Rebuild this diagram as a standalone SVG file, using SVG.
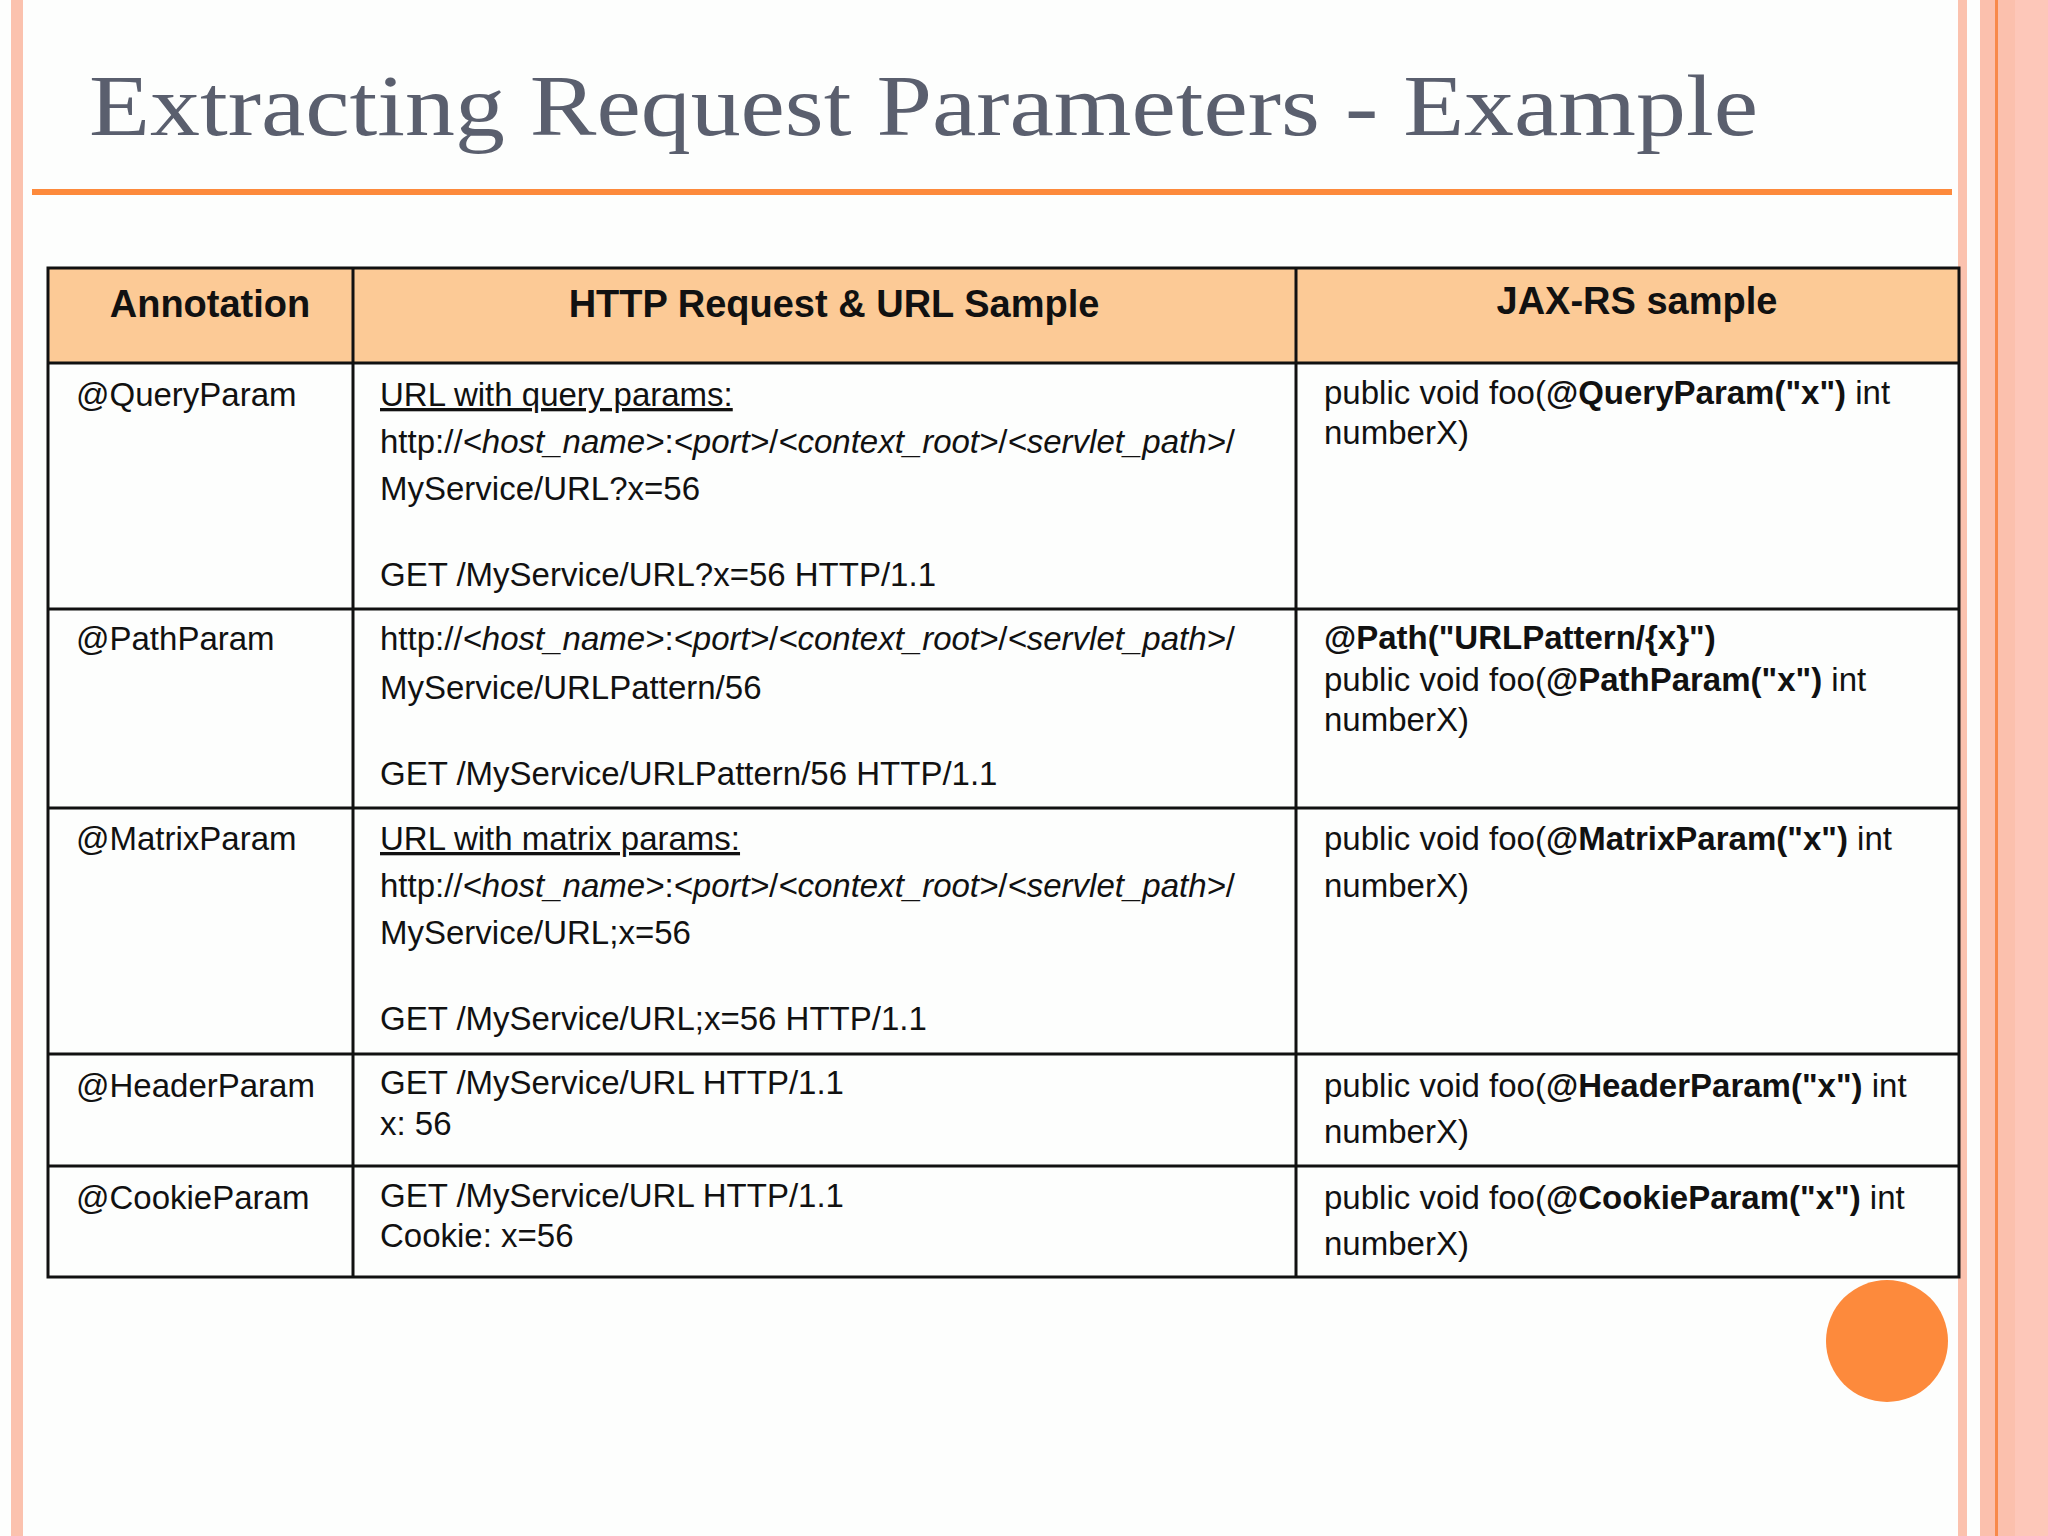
<svg xmlns="http://www.w3.org/2000/svg" width="2048" height="1536" viewBox="0 0 2048 1536">
<style>
.t{font-family:"Liberation Sans",Arial,sans-serif;font-size:33px;fill:#111}
.h{font-family:"Liberation Sans",Arial,sans-serif;font-size:38px;font-weight:bold;fill:#111}
.b{font-weight:bold}
.i{font-style:italic}
.u{text-decoration:underline}
.g{stroke:#111;stroke-width:3;fill:none}
</style>
<rect width="2048" height="1536" fill="#fdfefd"/>
<rect x="11" y="0" width="12" height="1536" fill="#fbc2ae"/>
<rect x="1958" y="0" width="9" height="1536" fill="#fbc2ae"/>
<rect x="1980" y="0" width="68" height="1536" fill="#fdc7b9"/>
<rect x="1980" y="0" width="35" height="1536" fill="#fbc0ad"/>
<rect x="1995" y="0" width="3" height="1536" fill="#f8894a"/>
<g id="title">
<text x="89" y="135" font-family="'Liberation Serif','DejaVu Serif',serif" font-size="86" fill="#5a5f6e" textLength="1669" lengthAdjust="spacingAndGlyphs">Extracting Request Parameters - Example</text>
<rect x="32" y="189" width="1920" height="6" fill="#fd8a3c"/>
</g>
<g id="table">
<rect x="48" y="268" width="1911" height="95" fill="#fcca96"/>
<rect x="48" y="268" width="1911" height="1009" class="g"/>
<line x1="353" y1="268" x2="353" y2="1277" class="g"/>
<line x1="1296" y1="268" x2="1296" y2="1277" class="g"/>
<line x1="48" y1="363" x2="1959" y2="363" class="g"/>
<line x1="48" y1="609" x2="1959" y2="609" class="g"/>
<line x1="48" y1="808" x2="1959" y2="808" class="g"/>
<line x1="48" y1="1054" x2="1959" y2="1054" class="g"/>
<line x1="48" y1="1166" x2="1959" y2="1166" class="g"/>
<text class="h" x="210" y="317" text-anchor="middle">Annotation</text>
<text class="h" x="834" y="317" text-anchor="middle">HTTP Request  &amp; URL Sample</text>
<text class="h" x="1637" y="314" text-anchor="middle">JAX-RS sample</text>
</g>
<g id="row-query" class="t">
<text class="t" x="76" y="406">@QueryParam</text>
<text class="t u" x="380" y="406">URL with query params:</text>
<text class="t" x="380" y="453">http://<tspan class="i">&lt;host_name&gt;</tspan>:<tspan class="i">&lt;port&gt;</tspan>/<tspan class="i">&lt;context_root&gt;</tspan>/<tspan class="i">&lt;servlet_path&gt;</tspan>/</text>
<text class="t" x="380" y="500">MyService/URL?x=56</text>
<text class="t" x="380" y="586">GET /MyService/URL?x=56 HTTP/1.1</text>
<text class="t" x="1324" y="404">public void foo(<tspan class="b">@QueryParam("x")</tspan> int</text>
<text class="t" x="1324" y="444">numberX)</text>
</g>
<g id="row-path">
<text class="t" x="76" y="650">@PathParam</text>
<text class="t" x="380" y="650">http://<tspan class="i">&lt;host_name&gt;</tspan>:<tspan class="i">&lt;port&gt;</tspan>/<tspan class="i">&lt;context_root&gt;</tspan>/<tspan class="i">&lt;servlet_path&gt;</tspan>/</text>
<text class="t" x="380" y="699">MyService/URLPattern/56</text>
<text class="t" x="380" y="785">GET /MyService/URLPattern/56 HTTP/1.1</text>
<text class="t b" x="1324" y="649">@Path("URLPattern/{x}")</text>
<text class="t" x="1324" y="691">public void foo(<tspan class="b">@PathParam("x")</tspan> int</text>
<text class="t" x="1324" y="731">numberX)</text>
</g>
<g id="row-matrix">
<text class="t" x="76" y="850">@MatrixParam</text>
<text class="t u" x="380" y="850">URL with matrix params:</text>
<text class="t" x="380" y="897">http://<tspan class="i">&lt;host_name&gt;</tspan>:<tspan class="i">&lt;port&gt;</tspan>/<tspan class="i">&lt;context_root&gt;</tspan>/<tspan class="i">&lt;servlet_path&gt;</tspan>/</text>
<text class="t" x="380" y="944">MyService/URL;x=56</text>
<text class="t" x="380" y="1030">GET /MyService/URL;x=56 HTTP/1.1</text>
<text class="t" x="1324" y="850">public void foo(<tspan class="b">@MatrixParam("x")</tspan> int</text>
<text class="t" x="1324" y="897">numberX)</text>
</g>
<g id="row-header">
<text class="t" x="76" y="1097">@HeaderParam</text>
<text class="t" x="380" y="1094">GET /MyService/URL HTTP/1.1</text>
<text class="t" x="380" y="1135">x: 56</text>
<text class="t" x="1324" y="1097">public void foo(<tspan class="b">@HeaderParam("x")</tspan> int</text>
<text class="t" x="1324" y="1143">numberX)</text>
</g>
<g id="row-cookie">
<text class="t" x="76" y="1209">@CookieParam</text>
<text class="t" x="380" y="1207">GET /MyService/URL HTTP/1.1</text>
<text class="t" x="380" y="1247">Cookie: x=56</text>
<text class="t" x="1324" y="1209">public void foo(<tspan class="b">@CookieParam("x")</tspan> int</text>
<text class="t" x="1324" y="1255">numberX)</text>
</g>
<circle id="dot" cx="1887" cy="1341" r="61" fill="#fd8a3c"/>
</svg>
